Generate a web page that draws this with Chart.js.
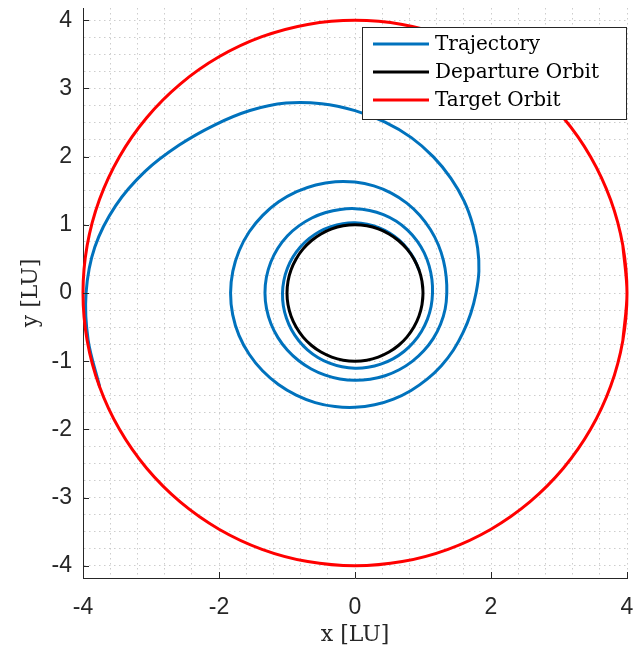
<!DOCTYPE html>
<html>
<head>
<meta charset="utf-8">
<script src="https://cdn.jsdelivr.net/npm/chart.js@4.4.1/dist/chart.umd.min.js"></script>
<style>
  html, body { margin: 0; padding: 0; background: #ffffff; }
  #wrap { width: 635px; height: 657px; position: relative; }
</style>
</head>
<body>
<div id="wrap"><canvas id="orbits"></canvas></div>
<script>
// Low-thrust spiral transfer, distances in LU (counter-clockwise, one row per revolution)
const trajectoryX = [
  0.940, 0.869, 0.772, 0.651, 0.508, 0.349, 0.178, 0, -0.179, -0.355, -0.521, -0.672, -0.804, -0.913, -0.994, -1.046, -1.066, -1.054,
  -1.009, -0.934, -0.829, -0.699, -0.546, -0.375, -0.191, 0, 0.192, 0.380, 0.558, 0.720, 0.861, 0.977, 1.064, 1.119, 1.140,
  1.131, 1.090, 1.018, 0.912, 0.773, 0.608, 0.418, 0.214, 0, -0.216, -0.430, -0.635, -0.826, -0.996, -1.135, -1.239, -1.303, -1.324,
  -1.301, -1.236, -1.133, -0.996, -0.831, -0.643, -0.438, -0.222, 0, 0.223, 0.442, 0.650, 0.842, 1.011, 1.152, 1.258, 1.326, 1.350,
  1.341, 1.301, 1.225, 1.109, 0.955, 0.762, 0.534, 0.277, 0, -0.288, -0.577, -0.858, -1.122, -1.357, -1.555, -1.704, -1.797, -1.830,
  -1.799, -1.706, -1.556, -1.360, -1.126, -0.865, -0.585, -0.294, 0, 0.289, 0.566, 0.825, 1.061, 1.270, 1.448, 1.590, 1.702, 1.780,
  1.822, 1.804, 1.732, 1.605, 1.411, 1.153, 0.829, 0.442, 0, -0.490, -1.014, -1.545, -2.067, -2.585, -3.087, -3.519, -3.826, -3.955,
  -3.924, -3.757];
const trajectoryY = [
  0.342, 0.502, 0.648, 0.775, 0.880, 0.959, 1.009, 1.029, 1.017, 0.974, 0.902, 0.800, 0.674, 0.527, 0.362, 0.184, 0, -0.186,
  -0.367, -0.539, -0.696, -0.833, -0.945, -1.029, -1.082, -1.103, -1.090, -1.044, -0.966, -0.858, -0.723, -0.564, -0.387, -0.197, 0,
  0.199, 0.397, 0.588, 0.765, 0.922, 1.052, 1.149, 1.211, 1.237, 1.226, 1.180, 1.100, 0.984, 0.836, 0.656, 0.451, 0.230, 0,
  -0.229, -0.450, -0.654, -0.836, -0.990, -1.114, -1.205, -1.261, -1.281, -1.265, -1.214, -1.126, -1.003, -0.848, -0.665, -0.458, -0.234, 0,
  0.236, 0.474, 0.708, 0.931, 1.138, 1.319, 1.466, 1.571, 1.627, 1.632, 1.585, 1.486, 1.337, 1.139, 0.898, 0.620, 0.317, 0,
  -0.317, -0.621, -0.899, -1.141, -1.342, -1.498, -1.607, -1.666, -1.677, -1.640, -1.556, -1.429, -1.264, -1.066, -0.836, -0.579, -0.300, 0,
  0.321, 0.657, 1.000, 1.347, 1.681, 1.996, 2.279, 2.506, 2.675, 2.777, 2.786, 2.676, 2.463, 2.169, 1.783, 1.281, 0.674, 0,
  -0.692, -1.367];

// Departure orbit, radius 1 LU (first and last points overlap to close the ring)
const departureX = [0.985, 1, 0.985, 0.940, 0.866, 0.766, 0.643, 0.5, 0.342, 0.174, 0, -0.174, -0.342, -0.5, -0.643, -0.766, -0.866, -0.940, -0.985,
  -1, -0.985, -0.940, -0.866, -0.766, -0.643, -0.5, -0.342, -0.174, 0, 0.174, 0.342, 0.5, 0.643, 0.766, 0.866, 0.940, 0.985, 1, 0.985];
const departureY = [-0.174, 0, 0.174, 0.342, 0.5, 0.643, 0.766, 0.866, 0.940, 0.985, 1, 0.985, 0.940, 0.866, 0.766, 0.643, 0.5, 0.342, 0.174,
  0, -0.174, -0.342, -0.5, -0.643, -0.766, -0.866, -0.940, -0.985, -1, -0.985, -0.940, -0.866, -0.766, -0.643, -0.5, -0.342, -0.174, 0, 0.174];

// Target orbit, radius 4 LU
const targetX = [3.939, 4, 3.939, 3.759, 3.464, 3.064, 2.571, 2, 1.368, 0.695, 0, -0.695, -1.368, -2, -2.571, -3.064, -3.464, -3.759, -3.939,
  -4, -3.939, -3.759, -3.464, -3.064, -2.571, -2, -1.368, -0.695, 0, 0.695, 1.368, 2, 2.571, 3.064, 3.464, 3.759, 3.939, 4, 3.939];
const targetY = [-0.695, 0, 0.695, 1.368, 2, 2.571, 3.064, 3.464, 3.759, 3.939, 4, 3.939, 3.759, 3.464, 3.064, 2.571, 2, 1.368, 0.695,
  0, -0.695, -1.368, -2, -2.571, -3.064, -3.464, -3.759, -3.939, -4, -3.939, -3.759, -3.464, -3.064, -2.571, -2, -1.368, -0.695, 0, 0.695];

const seriesNames = ['Trajectory', 'Departure Orbit', 'Target Orbit'];

// Labelled ticks and the finer grid
const xTickLabels = [-4, -2, 0, 2, 4];
const yTickLabels = [-4, -3, -2, -1, 0, 1, 2, 3, 4];
const xGridValues = [-4, -3.6, -3.2, -2.8, -2.4, -2, -1.6, -1.2, -0.8, -0.4, 0, 0.4, 0.8, 1.2, 1.6, 2, 2.4, 2.8, 3.2, 3.6, 4];
const yGridValues = [-4, -3.75, -3.5, -3.25, -3, -2.75, -2.5, -2.25, -2, -1.75, -1.5, -1.25, -1, -0.75, -0.5, -0.25,
  0, 0.25, 0.5, 0.75, 1, 1.25, 1.5, 1.75, 2, 2.25, 2.5, 2.75, 3, 3.25, 3.5, 3.75, 4];

const toPoints = (xs, ys) => xs.map((x, i) => ({ x: x, y: ys[i] }));

const AXIS_COLOR = '#262626';
const TICK_FONT = { family: "'Liberation Sans', Arial, sans-serif", size: 23 };
const SERIF = "'DejaVu Serif', 'Liberation Serif', serif";

// Short inward tick marks on the left and bottom axes
const innerTicks = {
  id: 'innerTicks',
  afterDraw(chart) {
    const { ctx, chartArea: a, scales: { x, y } } = chart;
    ctx.save();
    ctx.strokeStyle = AXIS_COLOR;
    ctx.lineWidth = 1;
    ctx.beginPath();
    yTickLabels.forEach(v => {
      const py = Math.round(y.getPixelForValue(v)) + 0.5;
      ctx.moveTo(a.left, py); ctx.lineTo(a.left + 6, py);
    });
    xTickLabels.forEach(v => {
      const px = Math.round(x.getPixelForValue(v)) + 0.5;
      ctx.moveTo(px, a.bottom); ctx.lineTo(px, a.bottom - 6);
    });
    ctx.stroke();
    ctx.restore();
  }
};

// Boxed legend in the upper right corner of the plot
const boxLegend = {
  id: 'boxLegend',
  afterDraw(chart) {
    const { ctx, chartArea: a } = chart;
    const right = a.right, top = 27, width = 265, height = 93, rowGap = 28;
    const left = right - width;
    ctx.save();
    ctx.fillStyle = '#ffffff';
    ctx.fillRect(left, top, width, height);
    ctx.strokeStyle = AXIS_COLOR;
    ctx.lineWidth = 1;
    ctx.strokeRect(left + 0.5, top + 0.5, width - 1, height - 1);
    ctx.font = '20px ' + SERIF;
    ctx.textBaseline = 'middle';
    ctx.textAlign = 'left';
    chart.data.datasets.forEach((ds, i) => {
      const cy = top + 17 + i * rowGap;
      ctx.strokeStyle = ds.borderColor;
      ctx.lineWidth = 3;
      ctx.beginPath();
      ctx.moveTo(left + 11, cy); ctx.lineTo(left + 67, cy);
      ctx.stroke();
      ctx.fillStyle = '#000000';
      ctx.fillText(ds.label, left + 73, cy + 1);
    });
    ctx.restore();
  }
};

const noEdgePadding = s => { s.paddingLeft = 0; s.paddingRight = 0; s.paddingTop = 0; s.paddingBottom = 0; };
const gridOptions = { color: '#cdcdcd', lineWidth: 1, drawTicks: false };
const borderOptions = { display: true, color: AXIS_COLOR, width: 1, dash: [1.5, 3.5] };
const lineStyle = { showLine: true, pointRadius: 0, pointHoverRadius: 0, borderWidth: 3, fill: false,
  clip: false, capBezierPoints: false, tension: 0.34, borderJoinStyle: 'round', borderCapStyle: 'round' };

new Chart(document.getElementById('orbits'), {
  type: 'line',
  data: {
    datasets: [
      Object.assign({ label: seriesNames[0], data: toPoints(trajectoryX, trajectoryY), borderColor: '#0072BD', order: 3 }, lineStyle),
      Object.assign({ label: seriesNames[1], data: toPoints(departureX, departureY), borderColor: '#000000', order: 2 }, lineStyle),
      Object.assign({ label: seriesNames[2], data: toPoints(targetX, targetY), borderColor: '#FF0000', order: 1 }, lineStyle)
    ]
  },
  options: {
    responsive: true,
    maintainAspectRatio: false,
    animation: false,
    devicePixelRatio: 1,
    elements: { line: { capBezierPoints: false, tension: 0.34 } },
    layout: { padding: { top: 8, right: 8, left: 0, bottom: 0 } },
    plugins: { legend: { display: false }, tooltip: { enabled: false } },
    scales: {
      x: {
        type: 'linear', min: -4, max: 4,
        afterFit: s => { s.height = 79; noEdgePadding(s); },
        afterBuildTicks: s => { s.ticks = xGridValues.map(v => ({ value: v })); },
        ticks: {
          autoSkip: false, maxRotation: 0, padding: 16, color: AXIS_COLOR, font: TICK_FONT,
          callback: v => (xTickLabels.includes(v) ? String(v) : '')
        },
        grid: gridOptions,
        border: borderOptions,
        title: { display: true, text: 'x [LU]', color: AXIS_COLOR, font: { family: SERIF, size: 22 },
          padding: { top: 0, bottom: 9 } }
      },
      y: {
        type: 'linear', min: -4.18, max: 4.18,
        afterFit: s => { s.width = 83; noEdgePadding(s); },
        afterBuildTicks: s => { s.ticks = yGridValues.map(v => ({ value: v })); },
        ticks: {
          autoSkip: false, padding: 11, color: AXIS_COLOR, font: TICK_FONT,
          callback: v => (yTickLabels.includes(v) ? String(v) : '')
        },
        grid: gridOptions,
        border: borderOptions,
        title: { display: true, text: 'y [LU]', color: AXIS_COLOR, font: { family: SERIF, size: 22 },
          padding: { top: 18, bottom: 0 } }
      }
    }
  },
  plugins: [innerTicks, boxLegend]
});
</script>
</body>
</html>
